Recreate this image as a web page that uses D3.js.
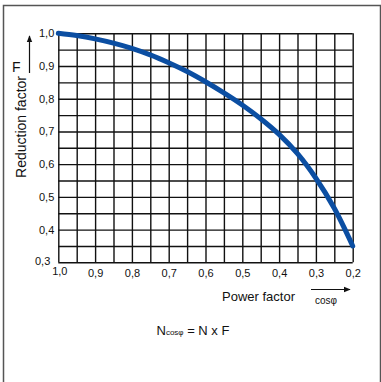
<!DOCTYPE html>
<html>
<head>
<meta charset="utf-8">
<script src="https://cdn.jsdelivr.net/npm/d3@7"></script>
<style>
  html, body { margin: 0; padding: 0; background: #fff; }
  svg { display: block; font-family: "Liberation Sans", Arial, sans-serif; }
</style>
</head>
<body>
<svg id="chart" width="381" height="382"></svg>
<script>
// ---- data ----
const powerFactor = [1.0, 0.95, 0.9, 0.85, 0.8, 0.75, 0.7, 0.65, 0.6, 0.55, 0.5, 0.45, 0.4, 0.35, 0.3, 0.25, 0.2];
const reductionF  = [1.0, 0.993, 0.983, 0.970, 0.954, 0.934, 0.910, 0.883, 0.852, 0.818, 0.781, 0.739, 0.691, 0.632, 0.557, 0.465, 0.350];
const xTickLabels = [1.0, 0.9, 0.8, 0.7, 0.6, 0.5, 0.4, 0.3, 0.2];
const yTickLabels = [1.0, 0.9, 0.8, 0.7, 0.6, 0.5, 0.4, 0.3];
const xGridValues = d3.range(0, 17).map(i => +(1.0 - i * 0.05).toFixed(2));
const yGridValues = d3.range(0, 15).map(i => +(0.3 + i * 0.05).toFixed(2));

const svg = d3.select("#chart");
const fmt = d => d.toFixed(1).replace(".", ",");

const pLeft = 58.3, pRight = 352.7, pTop = 33.3, pBottom = 262.3;
const x = d3.scaleLinear().domain([1.0, 0.2]).range([pLeft, pRight]);
const y = d3.scaleLinear().domain([0.3, 1.0]).range([pBottom, pTop]);

// outer frame (bottom edge off-canvas)
svg.append("rect")
  .attr("x", 3.5).attr("y", 5.5)
  .attr("width", 377).attr("height", 400)
  .attr("fill", "none").attr("stroke", "#555").attr("stroke-width", 1.5);

// grid via axes
const gridX = svg.append("g").attr("transform", `translate(0,${pBottom})`)
  .call(d3.axisBottom(x).tickValues(xGridValues).tickSize(-(pBottom - pTop)).tickFormat(""));
const gridY = svg.append("g").attr("transform", `translate(${pLeft},0)`)
  .call(d3.axisLeft(y).tickValues(yGridValues).tickSize(-(pRight - pLeft)).tickFormat(""));
[gridX, gridY].forEach(g => {
  g.select(".domain").remove();
  g.selectAll("line").attr("stroke", "#111").attr("stroke-width", 1.4);
});

// tick labels
const yAxis = svg.append("g").attr("transform", `translate(${pLeft},0)`)
  .call(d3.axisLeft(y).tickValues(yTickLabels).tickSize(0).tickPadding(4).tickFormat(fmt));
yAxis.select(".domain").remove();
yAxis.selectAll("text").attr("font-size", 11).attr("fill", "#111")
  .attr("font-family", "Liberation Sans, Arial, sans-serif")
  .attr("x", d => d === 0.3 ? -8 : -4)
  .attr("dy", d => d === 0.3 ? "0.2em" : "0.32em");

const xAxis = svg.append("g").attr("transform", `translate(0,${pBottom})`)
  .call(d3.axisBottom(x).tickValues(xTickLabels).tickSize(0).tickPadding(6).tickFormat(fmt));
xAxis.select(".domain").remove();
xAxis.selectAll("text").attr("font-size", 11).attr("fill", "#111")
  .attr("font-family", "Liberation Sans, Arial, sans-serif")
  .attr("x", d => d === 1.0 ? 1 : 0)
  .attr("y", d => d === 1.0 ? 5 : 6.5);

// curve
const line = d3.line()
  .x((d, i) => x(powerFactor[i]))
  .y(d => y(d))
  .curve(d3.curveCatmullRom.alpha(0.5));
svg.append("path")
  .datum(reductionF)
  .attr("d", line)
  .attr("fill", "none")
  .attr("stroke", "#0b4ea2")
  .attr("stroke-width", 5)
  .attr("stroke-linecap", "round");

// arrows
const defs = svg.append("defs");
defs.append("marker").attr("id", "ah").attr("viewBox", "0 0 10 10")
  .attr("refX", 9).attr("refY", 5).attr("markerWidth", 7).attr("markerHeight", 7)
  .attr("markerUnits", "userSpaceOnUse").attr("orient", "auto")
  .append("path").attr("d", "M0,1 L10,5 L0,9 Z").attr("fill", "#111");

svg.append("line").attr("x1", 29.5).attr("y1", 73).attr("x2", 29.5).attr("y2", 36)
  .attr("stroke", "#111").attr("stroke-width", 1.2).attr("marker-end", "url(#ah)");
svg.append("line").attr("x1", 311).attr("y1", 289.5).attr("x2", 350).attr("y2", 289.5)
  .attr("stroke", "#111").attr("stroke-width", 1.2).attr("marker-end", "url(#ah)");

// labels
svg.append("text").attr("x", 12).attr("y", 72).attr("font-size", 14).attr("fill", "#111").text("F");
svg.append("text")
  .attr("transform", "translate(26,127) rotate(-90)")
  .attr("text-anchor", "middle").attr("font-size", 14).attr("fill", "#111")
  .text("Reduction factor");
svg.append("text").attr("x", 222).attr("y", 301).attr("font-size", 13).attr("fill", "#111").text("Power factor");
svg.append("text").attr("x", 315).attr("y", 303.5).attr("font-size", 10).attr("fill", "#111").text("cosφ");

const f = svg.append("text").attr("x", 156.5).attr("y", 335).attr("font-size", 13).attr("fill", "#111");
f.append("tspan").text("N");
f.append("tspan").attr("font-size", 8).text("cosφ");
f.append("tspan").text(" = N x F");
</script>
</body>
</html>
